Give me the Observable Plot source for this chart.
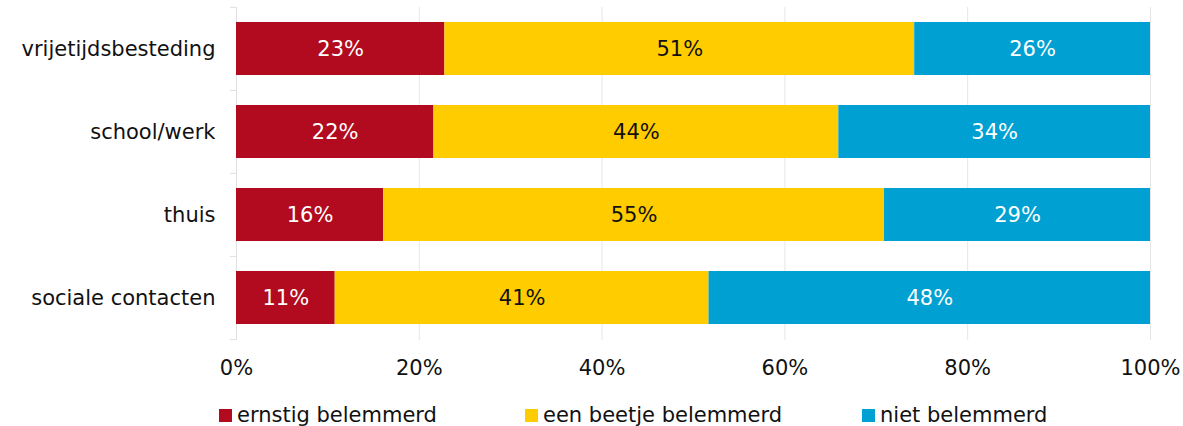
<!DOCTYPE html>
<html>
<head>
<meta charset="utf-8">
<script src="https://cdn.jsdelivr.net/npm/d3@7"></script>
<script src="https://cdn.jsdelivr.net/npm/@observablehq/plot@0.6"></script>
<style>
  body { margin: 0; background: #fff; font-family: "DejaVu Sans", Verdana, sans-serif; }
  #wrap { position: relative; width: 1183px; height: 426px; overflow: hidden; }
  .leg { position: absolute; top: 403px; font-size: 21px; color: #111; white-space: nowrap; display: flex; align-items: center; }
  .leg span.sw { display: inline-block; width: 13px; height: 13px; margin-right: 5px; }
</style>
</head>
<body>
<div id="wrap"></div>
<script>
const categories = ["vrijetijdsbesteding", "school/werk", "thuis", "sociale contacten"];
const seriesNames = ["ernstig belemmerd", "een beetje belemmerd", "niet belemmerd"];
const ernstig = [22.8, 21.6, 16.1, 10.8];
const beetje = [51.4, 44.3, 54.8, 40.9];
const niet = [25.8, 34.1, 29.1, 48.3];
const colors = ["#b20a1e", "#ffcc00", "#00a1d2"];
const textColors = ["#ffffff", "#111111", "#ffffff"];
const xTicks = [0, 20, 40, 60, 80, 100];

const seriesValues = [ernstig, beetje, niet];
const rows = [];
seriesNames.forEach((s, si) => {
  categories.forEach((c, ci) => {
    rows.push({cat: c, series: s, si, value: seriesValues[si][ci]});
  });
});

const step = 333 / categories.length;

const chart = Plot.plot({
  width: 1183,
  height: 385,
  marginLeft: 236,
  marginRight: 33,
  marginTop: 7,
  marginBottom: 45,
  style: {fontFamily: "DejaVu Sans, Verdana, sans-serif", fontSize: "21px", color: "#111"},
  x: {domain: [0, 100], ticks: xTicks, tickFormat: d => d + "%"},
  y: {domain: categories, paddingInner: 0.36, paddingOuter: 0.18},
  color: {domain: seriesNames, range: colors},
  marks: [
    Plot.gridX(xTicks.slice(1), {stroke: "#e6e6e6", strokeOpacity: 1}),
    Plot.ruleX([0], {stroke: "#e0e0e0"}),
    Plot.axisX({ticks: xTicks, tickSize: 0, tickPadding: 20, fontSize: 21, tickFormat: d => d + "%", label: null}),
    Plot.axisY({tickSize: 0, tickPadding: 21, fontSize: 21, label: null}),
    Plot.axisY({tickSize: 6, dy: -step / 2, text: null, label: null, stroke: "#e0e0e0"}),
    Plot.axisY(categories.slice(-1), {tickSize: 6, dy: step / 2, text: null, label: null, stroke: "#e0e0e0"}),
    Plot.barX(rows, Plot.stackX({y: "cat", x: "value", fill: "series", order: seriesNames})),
    Plot.textX(rows, Plot.stackX({
      y: "cat", x: "value", order: seriesNames,
      text: d => Math.round(d.value) + "%",
      fill: d => textColors[d.si],
      fontSize: 21
    }))
  ]
});

const wrap = document.getElementById("wrap");
wrap.appendChild(chart);

const legendLeft = [219, 525, 862];
seriesNames.forEach((s, i) => {
  const el = document.createElement("div");
  el.className = "leg";
  el.style.left = legendLeft[i] + "px";
  el.innerHTML = `<span class="sw" style="background:${colors[i]}"></span>${s}`;
  wrap.appendChild(el);
});
</script>
</body>
</html>
